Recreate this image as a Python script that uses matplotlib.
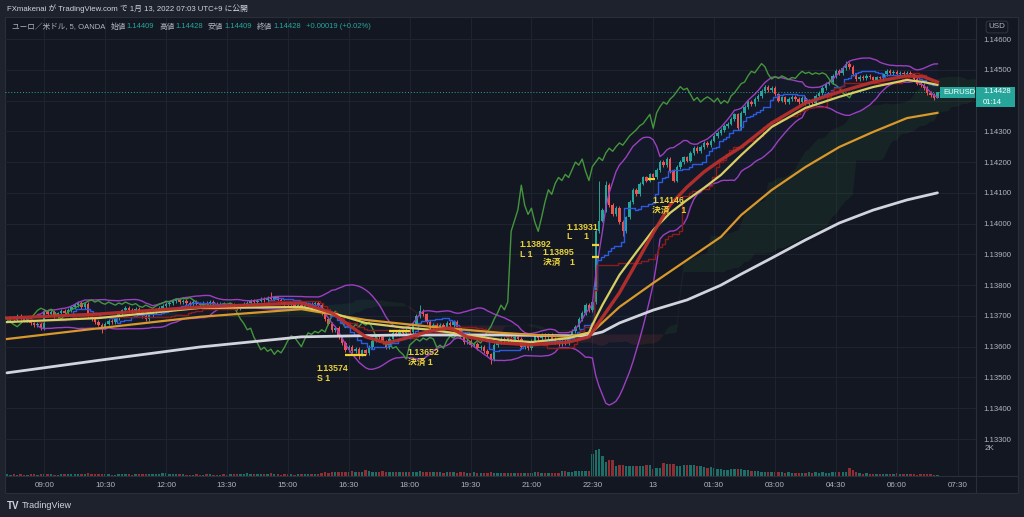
import numpy as np
import pandas as pd
import matplotlib
matplotlib.use("Agg")
import matplotlib.pyplot as plt
from matplotlib.patches import Rectangle

plt.rcParams["font.family"] = ["Liberation Sans", "Noto Sans CJK JP", "DejaVu Sans"]

W, H = 1024, 517

# EURUSD 5-minute closes, bar 0 = 08:05 (Jan 12 JST), bar 275 = 07:00 (Jan 13)
closes = [
    1.13690, 1.13695, 1.13688, 1.13700, 1.13692, 1.13685, 1.13690, 1.13678, 1.13670, 1.13675,
    1.13660, 1.13715, 1.13705, 1.13712, 1.13700, 1.13708, 1.13715, 1.13710, 1.13720, 1.13728,
    1.13735, 1.13742, 1.13730, 1.13738, 1.13700, 1.13690, 1.13680, 1.13672, 1.13665, 1.13675,
    1.13685, 1.13680, 1.13692, 1.13705, 1.13718, 1.13725, 1.13720, 1.13715, 1.13722, 1.13712,
    1.13700, 1.13690, 1.13702, 1.13712, 1.13720, 1.13725, 1.13732, 1.13738, 1.13742, 1.13748,
    1.13752, 1.13745, 1.13750, 1.13742, 1.13738, 1.13745, 1.13740, 1.13735, 1.13742, 1.13738,
    1.13745, 1.13740, 1.13736, 1.13740, 1.13732, 1.13728, 1.13735, 1.13730, 1.13725, 1.13732,
    1.13738, 1.13742, 1.13748, 1.13745, 1.13750, 1.13755, 1.13752, 1.13758, 1.13755, 1.13760,
    1.13752, 1.13745, 1.13738, 1.13735, 1.13740, 1.13732, 1.13736, 1.13730, 1.13735, 1.13740,
    1.13738, 1.13742, 1.13735, 1.13710, 1.13690, 1.13675, 1.13655, 1.13660, 1.13630, 1.13612,
    1.13590, 1.13598, 1.13585, 1.13592, 1.13575, 1.13588, 1.13580, 1.13598, 1.13620, 1.13635,
    1.13630, 1.13615, 1.13600, 1.13625, 1.13645, 1.13640, 1.13650, 1.13645, 1.13655, 1.13648,
    1.13675, 1.13700, 1.13715, 1.13705, 1.13680, 1.13662, 1.13670, 1.13660, 1.13672, 1.13665,
    1.13678, 1.13670, 1.13680, 1.13660, 1.13635, 1.13615, 1.13620, 1.13605, 1.13610, 1.13595,
    1.13600, 1.13585, 1.13575, 1.13560, 1.13605, 1.13615, 1.13625, 1.13618, 1.13628, 1.13622,
    1.13630, 1.13625, 1.13598, 1.13605, 1.13595, 1.13620, 1.13635, 1.13628, 1.13640, 1.13632,
    1.13638, 1.13625, 1.13615, 1.13608, 1.13620, 1.13612, 1.13630, 1.13650, 1.13665, 1.13690,
    1.13710, 1.13735, 1.13720, 1.13745, 1.13975, 1.14010, 1.14045, 1.14125, 1.14060, 1.14030,
    1.14050, 1.14005, 1.13975, 1.14020, 1.14070, 1.14110, 1.14095, 1.14130, 1.14150, 1.14140,
    1.14160, 1.14150, 1.14175, 1.14200, 1.14190, 1.14210, 1.14170, 1.14140, 1.14185, 1.14200,
    1.14215, 1.14205, 1.14230, 1.14245, 1.14235, 1.14250, 1.14262, 1.14255, 1.14270, 1.14285,
    1.14295, 1.14305, 1.14318, 1.14325, 1.14340, 1.14355, 1.14310, 1.14360, 1.14380, 1.14395,
    1.14388, 1.14405, 1.14415, 1.14430, 1.14445, 1.14435, 1.14440, 1.14420, 1.14400, 1.14410,
    1.14395, 1.14405, 1.14412, 1.14405, 1.14395, 1.14408, 1.14390, 1.14400, 1.14392, 1.14415,
    1.14425, 1.14440, 1.14455, 1.14460, 1.14480, 1.14495, 1.14490, 1.14505, 1.14520, 1.14510,
    1.14485, 1.14470, 1.14478, 1.14472, 1.14480, 1.14475, 1.14468, 1.14475, 1.14472, 1.14485,
    1.14495, 1.14488, 1.14492, 1.14485, 1.14490, 1.14486, 1.14490, 1.14485, 1.14470, 1.14455,
    1.14450, 1.14440, 1.14425, 1.14418, 1.14409, 1.14428,
]

volumes = [
    110, 90, 120, 100, 130, 95, 80, 140, 120, 100,
    150, 170, 130, 120, 100, 95, 110, 130, 120, 140,
    160, 150, 130, 170, 190, 150, 160, 140, 120, 110,
    130, 100, 90, 110, 120, 130, 110, 100, 120, 130,
    140, 120, 110, 130, 150, 170, 190, 220, 170, 140,
    130, 120, 110, 100, 90, 100, 110, 90, 100, 120,
    110, 100, 90, 95, 110, 100, 120, 130, 110, 120,
    140, 200, 170, 140, 120, 110, 130, 150, 180, 120,
    110, 100, 120, 130, 110, 100, 120, 110, 130, 140,
    150, 170, 160, 230, 260, 240, 270, 250, 300, 280,
    260, 250, 330, 290, 280, 300, 420, 380, 300, 320,
    280, 360, 300, 260, 280, 250, 270, 300, 260, 280,
    320, 300, 380, 280, 260, 270, 250, 280, 260, 240,
    260, 250, 280, 240, 260, 250, 230, 240, 260, 220,
    240, 230, 210, 250, 200, 190, 220, 200, 230, 210,
    200, 220, 190, 210, 180, 230, 260, 250, 240, 220,
    210, 200, 180, 230, 350, 330, 310, 300, 340, 360,
    330, 380, 370, 1580, 1850, 1930, 1420, 1000, 1140, 1140,
    720, 780, 790, 700, 680, 720, 690, 730, 700, 760,
    770, 520, 540, 600, 900, 880, 860, 860, 700, 720,
    760, 800, 790, 780, 740, 720, 610, 600, 620, 560,
    520, 480, 450, 420, 500, 470, 480, 480, 420, 400,
    380, 360, 330, 320, 300, 300, 280, 290, 320, 260,
    240, 250, 230, 220, 210, 240, 230, 250, 240, 260,
    230, 300, 220, 240, 260, 320, 300, 280, 250, 600,
    450, 300, 190, 160, 180, 170, 150, 160, 170, 150,
    160, 150, 140, 180, 130, 120, 110, 120, 130, 100,
    110, 140, 170, 120, 100, 60,
]

# long wicks
wick_highs = {78: 1.13778, 122: 1.13735, 175: 1.14140, 177: 1.14140, 248: 1.14530, 275: 1.14428}
wick_lows = {28: 1.13645, 104: 1.13560, 143: 1.13545, 182: 1.13960, 275: 1.14409}

time_tick_bars = [11, 29, 47, 65, 83, 101, 119, 137, 155, 173, 191, 209, 227, 245, 263, 281]
time_tick_labels = ["09:00", "10:30", "12:00", "13:30", "15:00", "16:30", "18:00", "19:30",
                    "21:00", "22:30", "13", "01:30", "03:00", "04:30", "06:00", "07:30"]
price_ticks = [1.133, 1.134, 1.135, 1.136, 1.137, 1.138, 1.139,
               1.140, 1.141, 1.142, 1.143, 1.144, 1.145, 1.146]
# 1.14400 sits under the last-price tag, so its label is hidden
price_labels = ["1.13300", "1.13400", "1.13500", "1.13600", "1.13700", "1.13800", "1.13900",
                "1.14000", "1.14100", "1.14200", "1.14300", "", "1.14500", "1.14600"]

# moving averages (bar index, price)
white_idx = [0, 28, 57, 87, 116, 146, 171, 176, 181, 191, 201, 211, 217, 226, 236, 246, 256, 266, 275]
white_val = [1.13515, 1.13557, 1.13599, 1.13632, 1.13638, 1.13638, 1.13635, 1.13648, 1.13677, 1.13719,
             1.13752, 1.13800, 1.13836, 1.13888, 1.13947, 1.14002, 1.14044, 1.14077, 1.14100]
orange_idx = [0, 28, 57, 87, 106, 126, 146, 166, 173, 181, 191, 201, 211, 217, 226, 236, 246, 256, 266, 275]
orange_val = [1.13625, 1.13661, 1.13697, 1.13722, 1.13687, 1.13664, 1.13645, 1.13632, 1.13648, 1.13729,
              1.13807, 1.13882, 1.13957, 1.14028, 1.14109, 1.14184, 1.14249, 1.14298, 1.14343, 1.14360]
yellow_idx = [0, 27, 57, 87, 96, 106, 116, 126, 136, 146, 155, 166, 172, 173, 176, 181, 186, 191, 196,
              201, 206, 211, 217, 226, 236, 246, 256, 266, 271, 275]
yellow_val = [1.13680, 1.13693, 1.13726, 1.13729, 1.13710, 1.13677, 1.13664, 1.13654, 1.13638, 1.13622,
              1.13615, 1.13628, 1.13645, 1.13671, 1.13736, 1.13833, 1.13907, 1.13979, 1.14035,
              1.14077, 1.14116, 1.14158, 1.14223, 1.14314, 1.14376, 1.14412, 1.14444, 1.14467, 1.14460, 1.14451]
red_idx = [0, 27, 57, 87, 96, 106, 112, 116, 126, 131, 136, 146, 155, 166, 172, 173, 181, 186, 191,
           196, 201, 206, 211, 217, 226, 236, 246, 256, 266, 271, 275]
red_val = [1.13693, 1.13706, 1.13729, 1.13742, 1.13710, 1.13632, 1.13612, 1.13622, 1.13654, 1.13661,
           1.13632, 1.13612, 1.13606, 1.13615, 1.13632, 1.13648, 1.13775, 1.13872, 1.13970,
           1.14061, 1.14119, 1.14168, 1.14207, 1.14249, 1.14327, 1.14392, 1.14428, 1.14460, 1.14480,
           1.14477, 1.14460]

# trade markers and labels
trade_marks = [(100, 106, 1.13574), (113, 119, 1.13652), (173, 175, 1.13931),
               (173, 175, 1.13890), (189.5, 191.5, 1.14146)]
trade_labels = [(91.6, 1.13528, "1.13574", "S 1"),
                (118.5, 1.13580, "1.13652", "決済 1"),
                (151.6, 1.13931, "1.13892", "L 1"),
                (158.4, 1.13905, "1.13895", "決済    1"),
                (165.5, 1.13989, "1.13931", "L     1"),
                (190.7, 1.14074, "1.14146", "決済     1")]

legend_parts = [("ユーロ／米ドル, 5, OANDA", "label"), ("始値", "label"), ("1.14409", "value"),
                ("高値", "label"), ("1.14428", "value"), ("安値", "label"), ("1.14409", "value"),
                ("終値", "label"), ("1.14428", "value"), ("+0.00019 (+0.02%)", "value")]

BG = "#131722"
UP, DN = "#26a69a", "#ef5350"
TXT = "#b2b5be"


def fx(x):
    return x / W


def fy(y):
    return 1 - y / H


fig = plt.figure(figsize=(W / 100, H / 100), dpi=100, facecolor="#1e222d")
fig.patches.append(Rectangle((fx(5), fy(493)), fx(1013), (493 - 17) / H, transform=fig.transFigure,
                             facecolor=BG, edgecolor="#2a2e39", lw=0.8, zorder=-5))

rect = [fx(5), fy(476), fx(971), (476 - 18) / H]
vax = fig.add_axes(rect)
ax = fig.add_axes(rect)
for a in (vax, ax):
    a.set_facecolor("none")
    for s in a.spines.values():
        s.set_visible(False)

n = len(closes)
idx = np.arange(n)
c = np.array(closes)
o = np.r_[c[0], c[:-1]]
hi = np.maximum(o, c) + 0.00006
lo = np.minimum(o, c) - 0.00006
for k, v in wick_highs.items():
    hi[k] = v
for k, v in wick_lows.items():
    lo[k] = v
up = c >= o
cols = np.where(up, UP, DN)

# volume overlay
vax.bar(idx, volumes, width=0.7, color=np.where(up, "#1d6e66", "#8f2f33"), lw=0)
vax.set_ylim(0, 32700)
vax.set_xlim(-0.6, 286.4)
vax.set_xticks([])
vax.set_yticks([])

# ichimoku
s_hi, s_lo = pd.Series(hi), pd.Series(lo)


def midline(p):
    return ((s_hi.rolling(p, min_periods=1).max() + s_lo.rolling(p, min_periods=1).min()) / 2).values


tenkan = midline(9)
kijun = midline(26)
span_a = (tenkan + kijun) / 2
span_b = midline(52)
xc = idx + 25
ax.fill_between(xc, span_a, span_b, where=span_a >= span_b, interpolate=True,
                color="#43a047", alpha=0.10, lw=0, zorder=1)
ax.fill_between(xc, span_a, span_b, where=span_a < span_b, interpolate=True,
                color="#ef5350", alpha=0.10, lw=0, zorder=1)

# bollinger bands
sc = pd.Series(c)
basis = sc.rolling(20, min_periods=10).mean()
sd = sc.rolling(20, min_periods=10).std(ddof=0)
bb_up, bb_lo = basis + 2 * sd, basis - 2 * sd
ax.fill_between(idx, bb_up, bb_lo, color="#2962ff", alpha=0.035, lw=0, zorder=1)
ax.plot(idx, bb_up, color="#9c3fc0", lw=1.0, zorder=4)
ax.plot(idx, bb_lo, color="#9c3fc0", lw=1.0, zorder=4)

ax.plot(idx - 25, c, color="#43963c", lw=1.0, zorder=4)
ax.plot(idx, tenkan, color="#2a5be0", lw=1.0, zorder=4, drawstyle="steps-mid")
ax.plot(idx, kijun, color="#8c1c1c", lw=1.0, zorder=4, drawstyle="steps-mid")

ax.plot(white_idx, white_val, color="#d1d4dc", lw=2.0, zorder=4, solid_capstyle="round")
ax.plot(orange_idx, orange_val, color="#d9982c", lw=1.6, zorder=4)
ax.plot(yellow_idx, yellow_val, color="#d6cf63", lw=1.6, zorder=5)
ax.plot(red_idx, red_val, color="#b8302d", lw=2.4, zorder=5, alpha=0.95)

# candles
ax.vlines(idx, lo, hi, colors=cols, lw=0.7, zorder=3)
ax.bar(idx, np.maximum(np.abs(c - o), 0.000012), bottom=np.minimum(o, c), width=0.72,
       color=cols, lw=0, zorder=3)

# last price line
ax.axhline(c[-1], color=UP, lw=0.7, ls=(0, (1, 2)), zorder=2)

# trades
for a0, a1, p in trade_marks:
    ax.plot([a0, a1], [p, p], color="#f2d230", lw=1.6, zorder=6, solid_capstyle="butt")
for bx, by, t1, t2 in trade_labels:
    ax.text(bx, by, t1, color="#e9d23a", fontsize=6.3, fontweight="bold", va="center", zorder=7)
    ax.annotate(t2, (bx, by), xytext=(0, -7), textcoords="offset points", color="#e9d23a",
                fontsize=6.3, fontweight="bold", va="center", zorder=7)

ax.set_xlim(-0.6, 286.4)
ax.set_ylim(1.1317975, 1.1466825)
ax.set_xticks(time_tick_bars, time_tick_labels)
ax.set_yticks(price_ticks, price_labels)
ax.yaxis.tick_right()
ax.tick_params(axis="y", length=0, pad=5, labelsize=5.6, labelcolor=TXT)
ax.tick_params(axis="x", length=0, pad=4.5, labelsize=5.8, labelcolor=TXT)
ax.grid(color="#1f2330", lw=0.8, zorder=0)
ax.set_axisbelow(True)

# scale separators
fig.add_artist(plt.Line2D([fx(976), fx(976)], [fy(17), fy(493)], color="#2a2e39", lw=0.8))
fig.add_artist(plt.Line2D([fx(5), fx(1018)], [fy(476), fy(476)], color="#2a2e39", lw=0.8))

# header and legend
fig.text(fx(7), fy(9), "FXmakenai が TradingView.com で 1月 13, 2022 07:03 UTC+9 に公開",
         color="#d1d4dc", fontsize=5.6, va="center")

renderer = fig.canvas.get_renderer()
x = 12
prev = None
for t, kind in legend_parts:
    if prev is not None:
        x += 1 if (prev == "label" and kind == "value") else 5
    tt = fig.text(fx(x), fy(27), t, color=UP if kind == "value" else TXT, fontsize=5.5, va="center")
    x += tt.get_window_extent(renderer).width
    prev = kind

fig.text(fx(997), fy(27), "USD", color=TXT, fontsize=5.8, ha="center", va="center",
         bbox=dict(boxstyle="round,pad=0.3", fc=BG, ec="#363a45", lw=0.6))
fig.text(fx(985), fy(449), "2K", color=TXT, fontsize=5.8, va="center")

# last price tags
fig.patches.append(Rectangle((fx(976), fy(107)), fx(39), 20 / H, transform=fig.transFigure,
                             facecolor=UP, lw=0, zorder=5))
fig.text(fx(983), fy(91.5), f"{c[-1]:.5f}", color="white", fontsize=5.5, va="center", zorder=6)
fig.text(fx(983), fy(102.5), "01:14", color="white", fontsize=5.5, va="center", zorder=6)
fig.patches.append(Rectangle((fx(940), fy(98)), fx(35), 11 / H, transform=fig.transFigure,
                             facecolor=UP, lw=0, zorder=5))
fig.text(fx(943), fy(92.5), "EURUSD", color="white", fontsize=5.5, va="center", zorder=6)

# footer
fig.text(fx(7), fy(506), "TV", color="#d1d4dc", fontsize=7, fontweight="bold", va="center")
fig.text(fx(22), fy(506), "TradingView", color="#d1d4dc", fontsize=6.5, va="center")

fig.savefig("out.png", dpi=100, facecolor=fig.get_facecolor())
